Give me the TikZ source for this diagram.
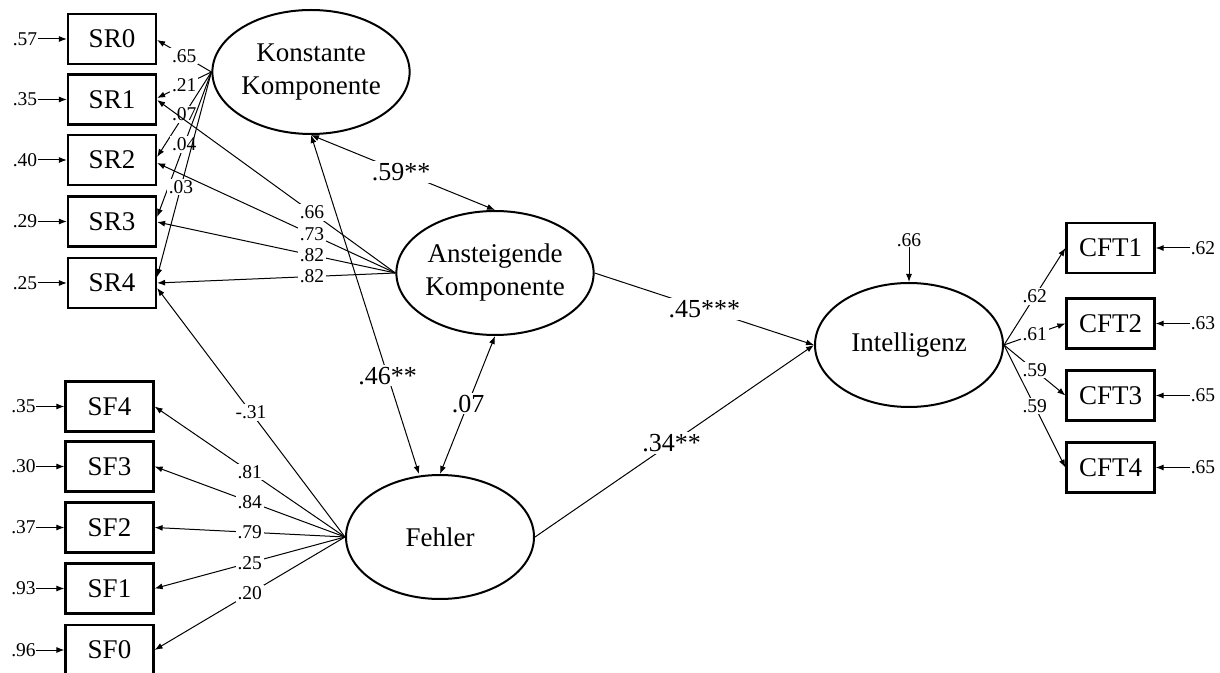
\documentclass[tikz,border=0pt]{standalone}
\usepackage{fontspec}
\setmainfont{Liberation Serif}
\usetikzlibrary{shapes.geometric,arrows.meta,calc}

\begin{document}
\begin{tikzpicture}[x=0.5pt,y=-0.5pt,
  obs/.style={draw,line width=1.1pt,minimum width=44pt,minimum height=25pt,inner sep=0pt,font=\fontsize{13.5}{16}\selectfont},
  lat/.style={ellipse,draw,line width=1pt,minimum width=94pt,minimum height=62pt,inner sep=0pt,align=center,font=\fontsize{13.5}{16.5}\selectfont},
  res/.style={inner sep=0pt,font=\fontsize{9.75}{10}\selectfont},
  lbl/.style={fill=white,inner sep=0.8pt,font=\fontsize{9.75}{10}\selectfont},
  big/.style={fill=white,inner sep=1pt,font=\fontsize{13}{14}\selectfont},
  pfeil/.style={-{Latex[length=4pt,width=3pt]},line width=0.5pt},
  kov/.style={{Latex[length=4pt,width=3pt]}-{Latex[length=4pt,width=3pt]},line width=0.5pt}
  ]
    \useasboundingbox (0,0) rectangle (1220,673);
    \clip (0,0) rectangle (1220,673);

    \node[lat] (konst) at (311,72) {Konstante\\Komponente};
    \node[lat] (anst) at (495,273) {Ansteigende\\Komponente};
    \node[lat] (fehler) at (440,537) {Fehler};
    \node[lat] (intel) at (909,345) {Intelligenz};

    \foreach \i/\y/\e in {0/39/.57,1/99.5/.35,2/160/.40,3/221.5/.29,4/283/.25} {
        \node[obs] (SR\i) at (112,\y) {SR\i};
        \node[res] (eSR\i) at (25,\y) {\e};
        \draw[pfeil] (eSR\i) -- (SR\i);
    }
    \foreach \i/\y/\e in {4/406.5/.35,3/466.5/.30,2/527.5/.37,1/588.5/.93,0/650/.96} {
        \node[obs] (SF\i) at (109.5,\y) {SF\i};
        \node[res] (eSF\i) at (23.5,\y) {\e};
        \draw[pfeil] (eSF\i) -- (SF\i);
    }
    \foreach \i/\y/\e in {1/248/.62,2/323.5/.63,3/395.5/.65,4/467.5/.65} {
        \node[obs] (CFT\i) at (1110.5,\y) {CFT\i};
        \node[res] (eCFT\i) at (1203,\y) {\e};
        \draw[pfeil] (eCFT\i) -- (CFT\i);
    }

    \foreach \i/\d/\v/\p in {0/1/.65/0.5,1/-1.5/.21/0.5,2/-3/.07/0.5,3/-4.5/.04/0.5,4/-6/.03/0.56}
        \draw[pfeil] (konst.west) -- ($(SR\i.east)+(0,\d)$) node[lbl,pos=\p] {\v};
    \foreach \i/\d/\v in {1/0.5/.66,2/3/.73,3/0.5/.82,4/0/.82}
        \draw[pfeil] (anst.west) -- ($(SR\i.east)+(0,\d)$) node[lbl,pos=0.35] {\v};
    \foreach \i/\v in {4/.81,3/.84,2/.79,1/.25,0/.20}
        \draw[pfeil] (fehler.west) -- (SF\i.east) node[lbl,pos=0.5] {\v};
    \draw[pfeil] (fehler.west) -- ($(SR4.east)+(0,5)$) node[lbl,pos=0.5] {-.31};

    \draw[kov] (konst.south) -- (anst.north) node[big,pos=0.49] {.59**};
    \draw[kov] (konst.south) -- ($(fehler.north)+(-21,0)$) node[big,pos=0.71] {.46**};
    \draw[kov] (anst.south) -- (fehler.north) node[big,pos=0.49] {.07};

    \draw[pfeil] (anst.east) -- (intel.west) node[big,pos=0.5] {.45***};
    \draw[pfeil] (fehler.east) -- (intel.west) node[big,pos=0.49] {.34**};

    \node[res] (eintel) at (909,240) {.66};
    \draw[pfeil] (eintel) -- (intel.north);
    \foreach \i/\v in {1/.62,2/.61,3/.59,4/.59}
        \draw[pfeil] (intel.east) -- (CFT\i.west) node[lbl,pos=0.5] {\v};
\end{tikzpicture}
\end{document}
